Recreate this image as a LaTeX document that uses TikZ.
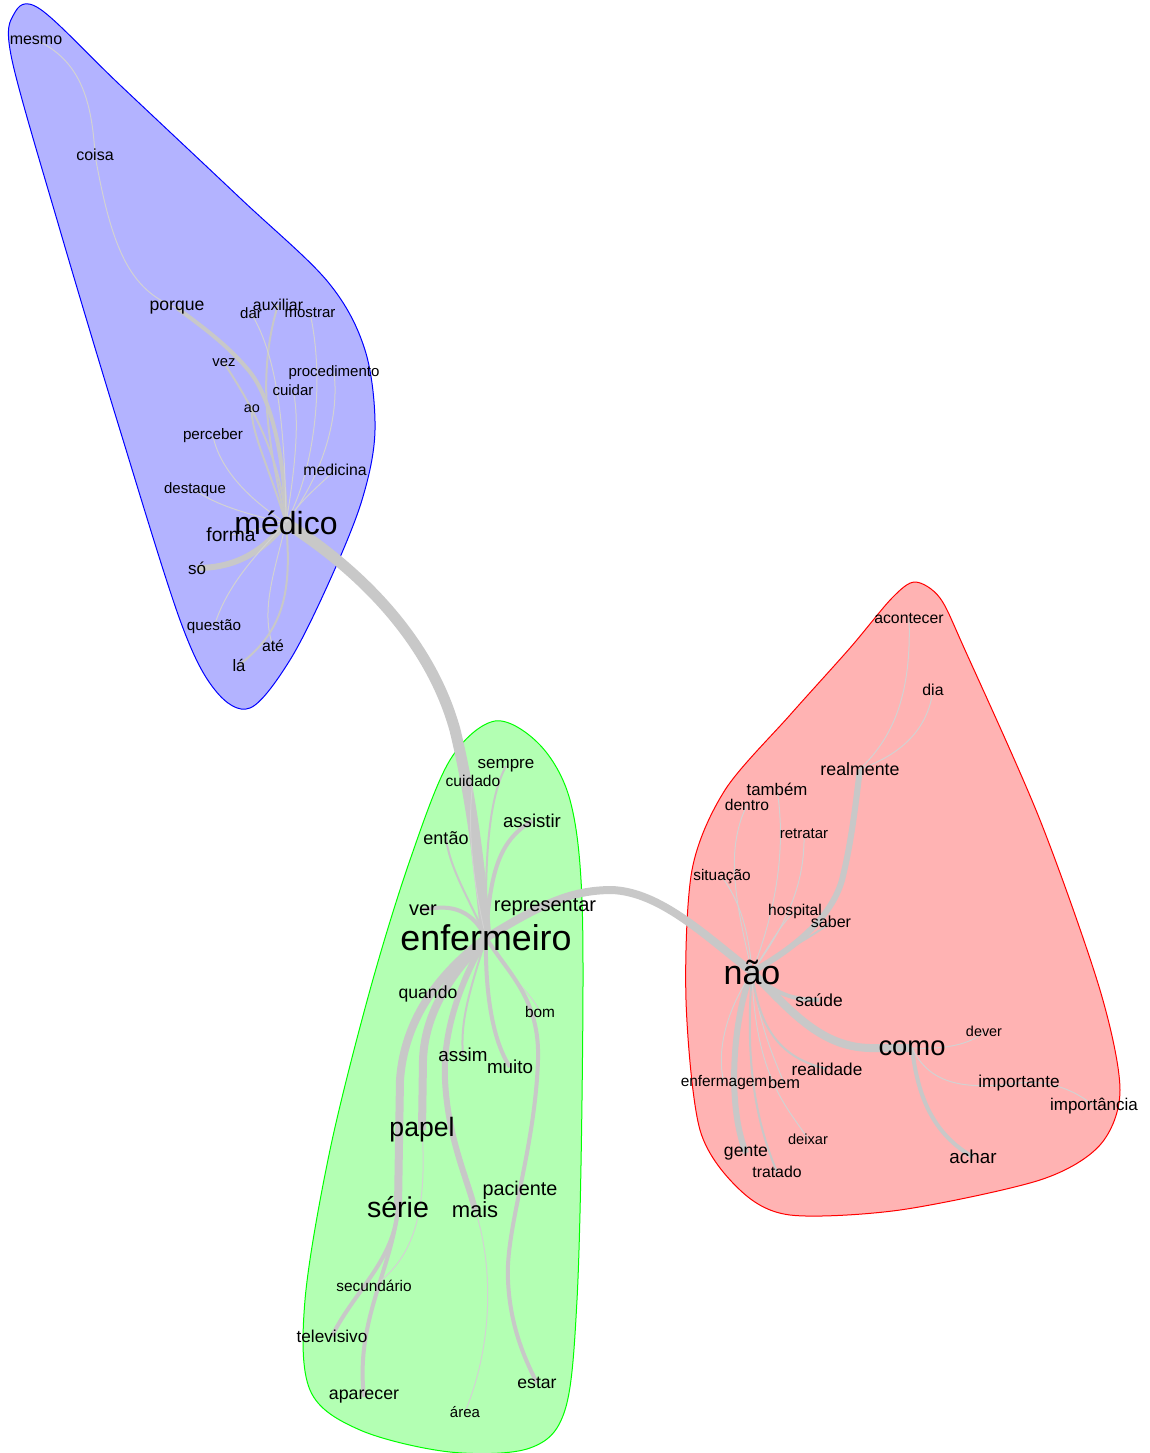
\documentclass[tikz,border=0pt]{standalone}
\usepackage{fontspec}
\setmainfont{Liberation Sans}
\usepackage{tikz}
\usetikzlibrary{backgrounds}
\definecolor{linkgray}{HTML}{C8C8C8}
\definecolor{faintgray}{HTML}{D2D2D2}
\definecolor{bluefill}{HTML}{B3B3FF}
\definecolor{redfill}{HTML}{FFB3B3}
\definecolor{greenfill}{HTML}{B3FFB3}
\pgfdeclarelayer{hulls}
\pgfdeclarelayer{links}
\pgfsetlayers{hulls,links,main}

\begin{document}
\begin{tikzpicture}[
  x=0.5pt, y=-0.5pt,
  every node/.style={inner sep=0pt, text=black},
  wd/.style={font=\fontsize{#1}{#1}\selectfont},
  hull/.style={line width=0.5pt},
  lnk0/.style={draw=faintgray, line width=0.5pt},
  lnk1/.style={draw=linkgray, line width=1pt},
  lnk2/.style={draw=linkgray, line width=2pt},
  lnk3/.style={draw=linkgray, line width=3pt},
  lnk4/.style={draw=linkgray, line width=4pt},
  lnk5/.style={draw=linkgray, line width=5.5pt}
]
\useasboundingbox (0,0) rectangle (1150,1453);

% cluster hulls
\begin{pgfonlayer}{hulls}
\draw[hull, draw=blue, fill=bluefill] plot[smooth cycle, tension=0.55] coordinates {
  (14,14) (40,9) (120,85) (240,198) (328,282) (365,350) (375,430) (362,500)
  (330,580) (290,660) (250,708) (215,690) (180,620) (120,430) (60,230) (12,60)};
\draw[hull, draw=green, fill=greenfill] plot[smooth cycle, tension=0.55] coordinates {
  (495,721) (540,745) (570,800) (582,900) (582,1100) (577,1300) (565,1410)
  (530,1448) (450,1452) (360,1430) (310,1390) (305,1300) (330,1150)
  (370,990) (410,860) (450,760)};
\draw[hull, draw=red, fill=redfill] plot[smooth cycle, tension=0.5] coordinates {
  (915,582) (940,598) (965,650) (1040,820) (1100,990) (1120,1090)
  (1100,1145) (1040,1180) (900,1210) (790,1215) (740,1190) (700,1130)
  (686,1000) (692,870) (725,790) (790,715) (850,648) (892,598)};
\end{pgfonlayer}

% blue cluster
\node[wd=16pt] (medico) at (286,523) {médico};
\node[wd=8pt] (mesmo) at (36,40) {mesmo};
\node[wd=8pt] (coisa) at (95,155) {coisa};
\node[wd=8.8pt] (porque) at (177,308) {porque};
\node[wd=7.5pt] (dar) at (251,313) {dar};
\node[wd=7.9pt] (auxiliar) at (278,305) {auxiliar};
\node[wd=7.5pt] (mostrar) at (310,313) {mostrar};
\node[wd=7.4pt] (vez) at (224,363) {vez};
\node[wd=7.5pt] (procedimento) at (334,373) {procedimento};
\node[wd=7.5pt] (cuidar) at (293,390) {cuidar};
\node[wd=7.2pt] (ao) at (252,409) {ao};
\node[wd=7.6pt] (perceber) at (213,436) {perceber};
\node[wd=7.9pt] (medicina) at (335,470) {medicina};
\node[wd=7.5pt] (destaque) at (195,490) {destaque};
\node[wd=9.6pt] (forma) at (231,535) {forma};
\node[wd=8.5pt] (so) at (197,568) {só};
\node[wd=7.6pt] (questao) at (214,627) {questão};
\node[wd=7.9pt] (ate) at (273,646) {até};
\node[wd=8.3pt] (la) at (239,665) {lá};

% green cluster
\node[wd=17.9pt] (enfermeiro) at (486,938) {enfermeiro};
\node[wd=8.5pt] (sempre) at (506,766) {sempre};
\node[wd=7.8pt] (cuidado) at (473,781) {cuidado};
\node[wd=9.3pt] (assistir) at (532,821) {assistir};
\node[wd=9pt] (entao) at (446,838) {então};
\node[wd=10pt] (ver) at (423,910) {ver};
\node[wd=10pt] (representar) at (545,907) {representar};
\node[wd=8.8pt] (quando) at (428,994) {quando};
\node[wd=7.7pt] (bom) at (540,1012) {bom};
\node[wd=9.4pt] (assim) at (463,1055) {assim};
\node[wd=9.4pt] (muito) at (510,1067) {muito};
\node[wd=13.3pt] (papel) at (422,1130) {papel};
\node[wd=9.9pt] (paciente) at (520,1190) {paciente};
\node[wd=14.3pt] (serie) at (398,1207) {série};
\node[wd=11pt] (mais) at (475,1210) {mais};
\node[wd=7.7pt] (secundario) at (374,1286) {secundário};
\node[wd=8.6pt] (televisivo) at (332,1336) {televisivo};
\node[wd=8.9pt] (aparecer) at (364,1397) {aparecer};
\node[wd=7.5pt] (area) at (465,1412) {área};
\node[wd=8.8pt] (estar) at (537,1383) {estar};

% red cluster
\node[wd=17pt] (nao) at (752,972) {não};
\node[wd=7.9pt] (acontecer) at (909,618) {acontecer};
\node[wd=7.9pt] (dia) at (933,690) {dia};
\node[wd=8.9pt] (realmente) at (860,769) {realmente};
\node[wd=8.4pt] (tambem) at (777,789) {também};
\node[wd=7.8pt] (dentro) at (747,805) {dentro};
\node[wd=7.5pt] (retratar) at (804,834) {retratar};
\node[wd=7.7pt] (situacao) at (722,877) {situação};
\node[wd=7.8pt] (hospital) at (795,911) {hospital};
\node[wd=8pt] (saber) at (831,922) {saber};
\node[wd=8.7pt] (saude) at (819,1000) {saúde};
\node[wd=7.2pt] (dever) at (984,1031) {dever};
\node[wd=13.7pt] (como) at (912,1048) {como};
\node[wd=8.6pt] (realidade) at (827,1069) {realidade};
\node[wd=7.7pt] (enfermagem) at (724,1083) {enfermagem};
\node[wd=8.2pt] (bem) at (784,1083) {bem};
\node[wd=8.6pt] (importante) at (1019,1083) {importante};
\node[wd=8.5pt] (importancia) at (1094,1106) {importância};
\node[wd=7.3pt] (deixar) at (808,1139) {deixar};
\node[wd=8.8pt] (gente) at (746,1153) {gente};
\node[wd=7.9pt] (tratado) at (777,1172) {tratado};
\node[wd=9.4pt] (achar) at (973,1157) {achar};

% links
\begin{pgfonlayer}{links}
% between clusters
\draw[lnk5] (medico.center) .. controls (360,570) and (430,640) .. (455,730)
  .. controls (472,800) and (480,870) .. (enfermeiro.center);
\draw[lnk4] (enfermeiro.center) .. controls (540,905) and (570,890) .. (612,890)
  .. controls (660,892) and (705,935) .. (nao.center);
\draw[lnk4] (nao.center) .. controls (790,1010) and (820,1047) .. (870,1048) -- (como.center);
% medico
\draw[lnk2] (medico.center) .. controls (285,460) and (272,400) .. (250,372)
  .. controls (228,345) and (200,325) .. (porque.center);
\draw[lnk0] (porque.center) .. controls (130,290) and (112,250) .. (coisa.center);
\draw[lnk0] (coisa.center) .. controls (92,100) and (80,60) .. (mesmo.center);
\draw[lnk1] (medico.center) .. controls (282,470) and (262,420) .. (vez.center);
\draw[lnk1] (medico.center) .. controls (270,470) and (250,430) .. (ao.center);
\draw[lnk1] (medico.center) .. controls (270,450) and (255,380) .. (auxiliar.center);
\draw[lnk0] (medico.center) .. controls (285,440) and (280,360) .. (dar.center);
\draw[lnk0] (medico.center) .. controls (315,470) and (325,380) .. (mostrar.center);
\draw[lnk0] (medico.center) .. controls (320,480) and (340,420) .. (procedimento.center);
\draw[lnk0] (medico.center) .. controls (295,470) and (300,420) .. (cuidar.center);
\draw[lnk0] (medico.center) .. controls (300,500) and (320,485) .. (medicina.center);
\draw[lnk0] (medico.center) .. controls (250,500) and (220,470) .. (perceber.center);
\draw[lnk0] (medico.center) .. controls (250,515) and (215,505) .. (destaque.center);
\draw[lnk0] (medico.center) .. controls (260,528) and (245,533) .. (forma.center);
\draw[lnk3] (medico.center) .. controls (265,548) and (240,568) .. (so.center);
\draw[lnk0] (medico.center) .. controls (250,560) and (225,590) .. (questao.center);
\draw[lnk0] (medico.center) .. controls (275,570) and (260,610) .. (ate.center);
\draw[lnk1] (medico.center) .. controls (292,590) and (285,630) .. (la.center);
% enfermeiro
\draw[lnk1] (enfermeiro.center) .. controls (485,860) and (488,800) .. (sempre.center);
\draw[lnk0] (enfermeiro.center) .. controls (470,870) and (468,820) .. (cuidado.center);
\draw[lnk2] (enfermeiro.center) .. controls (490,870) and (500,840) .. (assistir.center);
\draw[lnk1] (enfermeiro.center) .. controls (470,900) and (450,870) .. (entao.center);
\draw[lnk2] (ver.center) .. controls (445,905) and (470,905) .. (enfermeiro.center);
\draw[lnk0] (enfermeiro.center) .. controls (470,965) and (440,985) .. (quando.center);
\draw[lnk4] (enfermeiro.center) .. controls (450,965) and (405,1010) .. (400,1080) -- (serie.center);
\draw[lnk4] (enfermeiro.center) .. controls (460,965) and (425,1005) .. (423,1060) -- (papel.center);
\draw[lnk3] (enfermeiro.center) .. controls (470,965) and (442,1020) .. (445,1080)
  .. controls (448,1140) and (468,1180) .. (mais.center);
\draw[lnk1] (enfermeiro.center) .. controls (470,990) and (460,1020) .. (assim.center);
\draw[lnk2] (enfermeiro.center) .. controls (485,990) and (492,1040) .. (muito.center);
\draw[lnk0] (enfermeiro.center) .. controls (505,975) and (530,990) .. (bom.center);
\draw[lnk2] (enfermeiro.center) .. controls (510,975) and (540,1000) .. (538,1060)
  .. controls (535,1150) and (505,1230) .. (508,1280)
  .. controls (510,1330) and (528,1365) .. (estar.center);
\draw[lnk2] (serie.center) .. controls (395,1260) and (355,1290) .. (televisivo.center);
\draw[lnk2] (serie.center) .. controls (392,1270) and (355,1320) .. (aparecer.center);
\draw[lnk0] (papel.center) .. controls (428,1220) and (410,1260) .. (secundario.center);
\draw[lnk0] (mais.center) .. controls (492,1260) and (495,1340) .. (area.center);
% nao
\draw[lnk3] (nao.center) .. controls (800,945) and (832,915) .. (842,880)
  .. controls (852,840) and (856,800) .. (realmente.center);
\draw[lnk0] (realmente.center) .. controls (890,740) and (912,700) .. (acontecer.center);
\draw[lnk0] (realmente.center) .. controls (900,755) and (928,730) .. (dia.center);
\draw[lnk1] (nao.center) .. controls (785,950) and (815,935) .. (saber.center);
\draw[lnk0] (nao.center) .. controls (770,945) and (780,925) .. (hospital.center);
\draw[lnk0] (nao.center) .. controls (790,920) and (805,880) .. (retratar.center);
\draw[lnk0] (nao.center) .. controls (780,900) and (785,840) .. (tambem.center);
\draw[lnk0] (nao.center) .. controls (735,900) and (725,850) .. (dentro.center);
\draw[lnk0] (nao.center) .. controls (748,920) and (735,895) .. (situacao.center);
\draw[lnk2] (nao.center) .. controls (775,995) and (795,1000) .. (saude.center);
\draw[lnk3] (nao.center) .. controls (735,1010) and (725,1100) .. (gente.center);
\draw[lnk1] (nao.center) .. controls (745,1060) and (755,1120) .. (tratado.center);
\draw[lnk0] (nao.center) .. controls (720,1020) and (718,1060) .. (enfermagem.center);
\draw[lnk0] (nao.center) .. controls (760,1030) and (775,1060) .. (bem.center);
\draw[lnk1] (nao.center) .. controls (760,1040) and (790,1060) .. (realidade.center);
\draw[lnk0] (nao.center) .. controls (755,1080) and (790,1110) .. (deixar.center);
\draw[lnk2] (como.center) .. controls (918,1100) and (935,1135) .. (achar.center);
\draw[lnk0] (como.center) .. controls (950,1050) and (975,1042) .. (dever.center);
\draw[lnk0] (como.center) .. controls (930,1085) and (965,1090) .. (importante.center);
\draw[lnk0] (importante.center) .. controls (1050,1080) and (1075,1090) .. (importancia.center);
\end{pgfonlayer}

\end{tikzpicture}
\end{document}
